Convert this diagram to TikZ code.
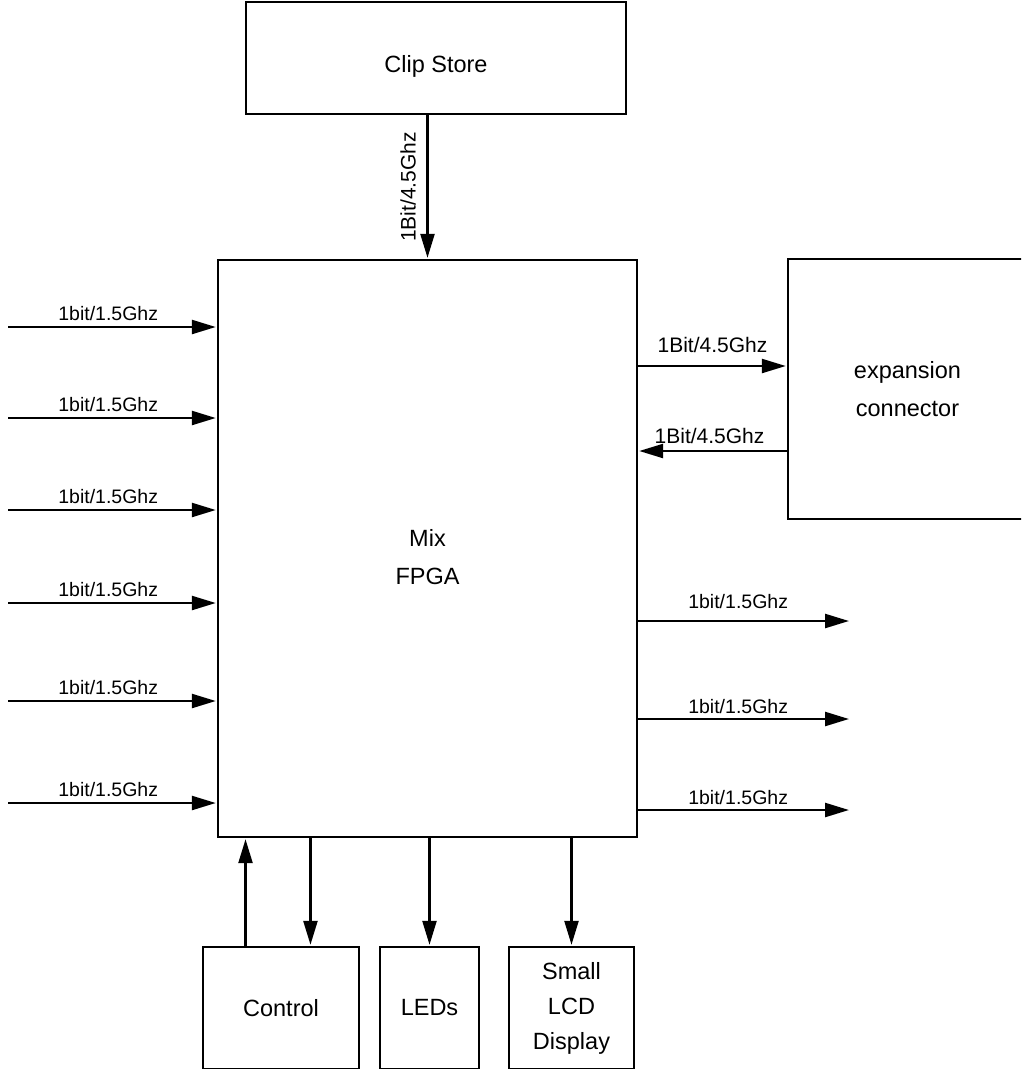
\documentclass[tikz,border=0pt]{standalone}
\usepackage{fontspec}
\setmainfont{Liberation Sans}
\usetikzlibrary{arrows.meta,calc}
\begin{document}
\begin{tikzpicture}[x=1pt,y=-1pt,
  box/.style={draw, line width=2.4pt, align=center, inner sep=0pt},
  main/.style={font=\fontsize{23.5}{38}\selectfont, align=center, inner sep=0pt},
  arr/.style={line width=2.4pt, -{Triangle[length=24pt,width=14pt]}, shorten >=1pt},
  lbl/.style={font=\fontsize{19.5}{22}\selectfont, inner sep=0pt, anchor=base},
  lblb/.style={font=\fontsize{21}{24}\selectfont, inner sep=0pt, anchor=base}]
\clip (0,0) rectangle (1021,1069);
% boxes
\node[box, minimum width=380pt, minimum height=112pt] (clip) at (436,58) {};
\node[main] (cliptext) at ([yshift=-8pt]clip.center) {Clip Store};
\node[box, minimum width=419pt, minimum height=577pt] (fpga) at (427.5,548.5) {};
\node[main] (fpgatext) at ([yshift=-8.5pt]fpga.center) {Mix\\FPGA};
\node[box, main, draw, line width=2.4pt, minimum width=239pt, minimum height=260pt] (exp) at (907.5,389) {expansion\\connector};
\node[box, main, draw, line width=2.4pt, minimum width=156pt, minimum height=122pt] (control) at (281,1008) {Control};
\node[box, main, draw, line width=2.4pt, minimum width=99pt, minimum height=122pt] (leds) at (429.5,1008) {LEDs};
\node[box, main, draw, line width=2.4pt, minimum width=125pt, minimum height=122pt, font=\fontsize{23.5}{35}\selectfont] (lcd) at (571.5,1008) {Small\\LCD\\Display};
% clip store -> fpga
\draw[arr] (clip.south -| fpga.north) -- (fpga.north);
\node[lblb, rotate=90] (cliplbl) at ([xshift=-12pt]$(clip.south -| fpga.north)!0.5!(fpga.north)$) {1Bit/4.5Ghz};
% left inputs
\foreach \i/\y in {1/327,2/418,3/510,4/603,5/701,6/803}{
  \coordinate (in\i) at (8,\y);
  \draw[arr] (in\i) -- (in\i -| fpga.west) node[lbl, pos=0.48, yshift=6.5pt] {1bit/1.5Ghz};
}
% expansion connector
\coordinate (e1) at (0,366);
\coordinate (e2) at (0,451);
\draw[arr] (e1 -| fpga.east) -- (e1 -| exp.west) node[lblb, midway, yshift=14pt] {1Bit/4.5Ghz};
\draw[arr] (e2 -| exp.west) -- (e2 -| fpga.east) node[lblb, pos=0.52, yshift=8pt] {1Bit/4.5Ghz};
% right outputs
\foreach \i/\y/\s in {1/621/13,2/719/6,3/810/6}{
  \coordinate (out\i) at (850,\y);
  \draw[arr] (out\i -| fpga.east) -- (out\i) node[lbl, pos=0.472, yshift=\s pt] {1bit/1.5Ghz};
}
% bottom
\coordinate (cu) at ($(control.north west)!0.276!(control.north east)$);
\coordinate (cd) at ($(control.north west)!0.686!(control.north east)$);
\draw[arr] (cu) -- (cu |- fpga.south);
\draw[arr] (cd |- fpga.south) -- (cd);
\draw[arr] (leds.north |- fpga.south) -- (leds.north);
\draw[arr] (lcd.north |- fpga.south) -- (lcd.north);
\end{tikzpicture}
\end{document}
